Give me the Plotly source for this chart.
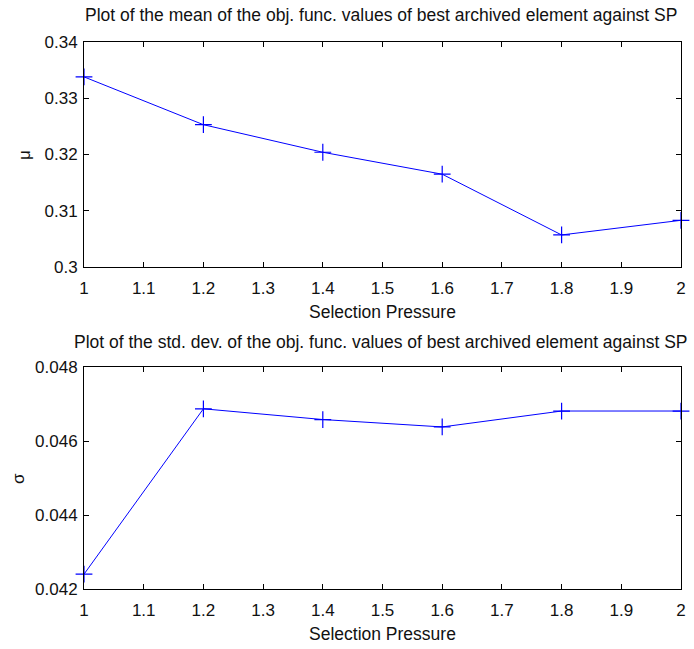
import plotly.graph_objects as go

sp = [1.0, 1.2, 1.4, 1.6, 1.8, 2.0]
mean_vals = [0.3338, 0.3253, 0.3204, 0.3165, 0.3057, 0.3083]
std_vals = [0.0424, 0.04687, 0.04658, 0.04638, 0.04681, 0.04681]
x_ticks = [1, 1.1, 1.2, 1.3, 1.4, 1.5, 1.6, 1.7, 1.8, 1.9, 2]
mean_ticks = [0.30, 0.31, 0.32, 0.33, 0.34]
mean_labels = ["0.3", "0.31", "0.32", "0.33", "0.34"]
std_ticks = [0.042, 0.044, 0.046, 0.048]
std_labels = ["0.042", "0.044", "0.046", "0.048"]
title_top = "Plot of the mean of the obj. func. values of best archived element against SP"
title_bot = "Plot of the std. dev. of the obj. func. values of best archived element against SP"

W, H = 694, 649
FONT = "Liberation Sans, Arial, sans-serif"

fig = go.Figure()
for i, (vals, yax) in enumerate([(mean_vals, "y"), (std_vals, "y2")]):
    fig.add_trace(go.Scatter(
        x=sp, y=vals, xaxis="x" if i == 0 else "x2", yaxis=yax,
        mode="lines+markers",
        line=dict(color="#0000FF", width=1),
        marker=dict(symbol="cross-thin", size=12, line=dict(color="#0000FF", width=1.2)),
        cliponaxis=False, showlegend=False))

xl, xr = 84 / W, 681 / W
axis_common = dict(showline=True, linecolor="black", linewidth=1, mirror="ticks",
                   ticks="inside", ticklen=5, tickcolor="black", showgrid=False,
                   zeroline=False, tickfont=dict(family=FONT, size=17, color="#111111"),
                   automargin=False)
xax = dict(range=[1, 2], tickvals=x_ticks, ticktext=[("%g" % v) for v in x_ticks],
           ticklabelstandoff=6, **axis_common)
yax_extra = dict(ticklabelstandoff=2)

fig.update_layout(
    width=W, height=H, margin=dict(l=0, r=0, t=0, b=0),
    paper_bgcolor="white", plot_bgcolor="white",
    font=dict(family=FONT, color="black"),
    xaxis=dict(domain=[xl, xr], anchor="y", **xax),
    yaxis=dict(domain=[1 - 267 / H, 1 - 42 / H], range=[0.30, 0.34], tickvals=mean_ticks,
               ticktext=mean_labels, anchor="x", **yax_extra, **axis_common),
    xaxis2=dict(domain=[xl, xr], anchor="y2", **xax),
    yaxis2=dict(domain=[1 - 589 / H, 1 - 367 / H], range=[0.042, 0.048], tickvals=std_ticks,
                ticktext=std_labels, anchor="x2", **yax_extra, **axis_common),
)

def ann(text, x, y, size, angle=0):
    fig.add_annotation(text=text, x=x / W, y=1 - y / H, xref="paper", yref="paper",
                       showarrow=False, font=dict(family=FONT, size=size, color="#111111"),
                       textangle=angle, xanchor="center", yanchor="middle")

ann(title_top, 381, 15, 17.5)
ann("Selection Pressure", 382, 312, 17.5)
ann("μ", 25, 155, 17, -90)
ann(title_bot, 381, 342, 17.5)
ann("Selection Pressure", 382, 634, 17.5)
ann("σ", 18, 479, 17, -90)

fig.write_html("out.html")
